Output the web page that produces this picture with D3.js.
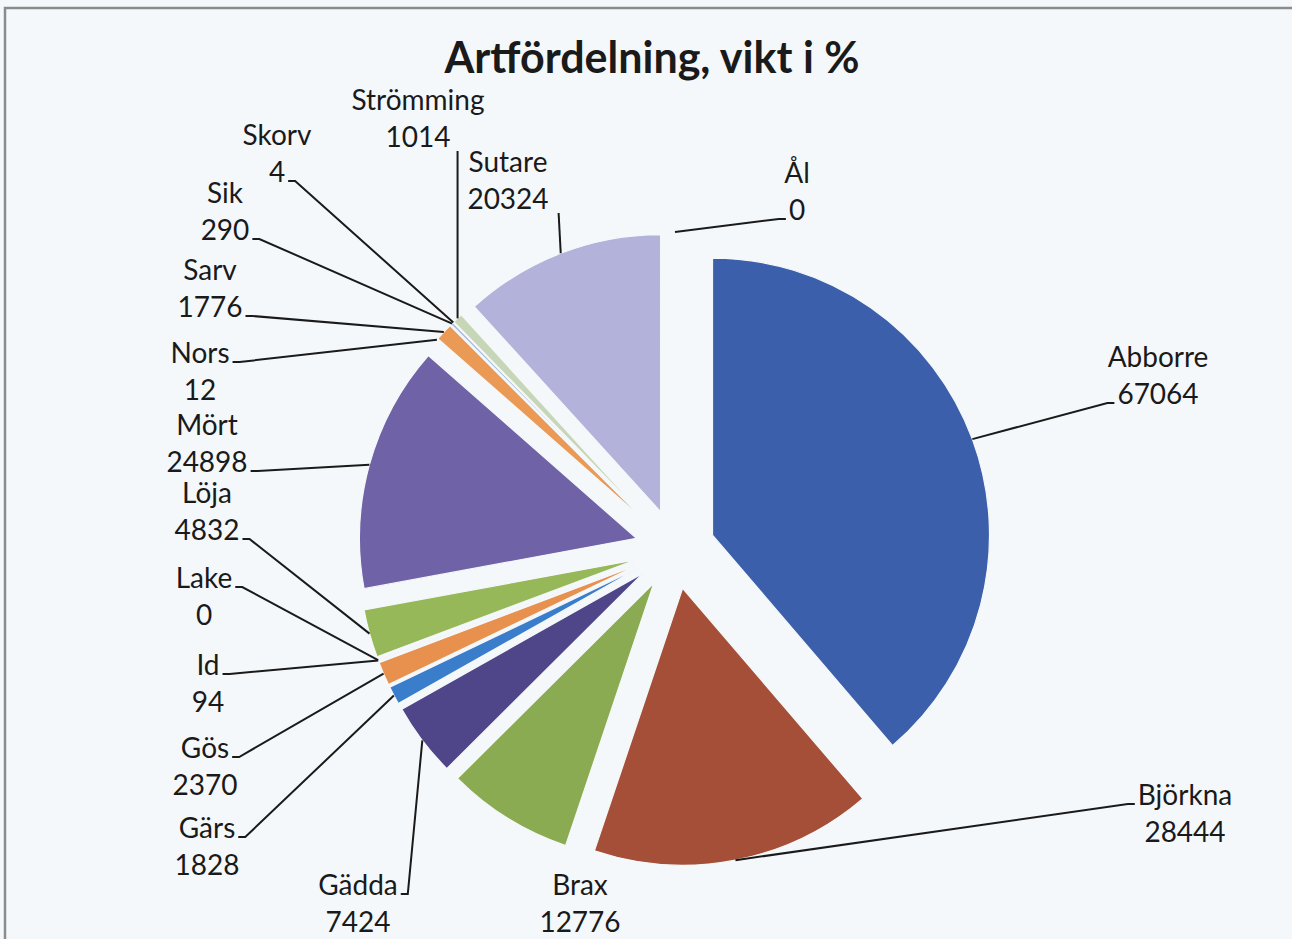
<!DOCTYPE html>
<html>
<head>
<meta charset="utf-8">
<script src="https://cdn.jsdelivr.net/npm/d3@7"></script>
<style>
  body { margin: 0; background: #f5f8fa; }
  svg { display: block; }
</style>
</head>
<body>
<svg></svg>
<script>
const categories = ["Abborre", "Björkna", "Brax", "Gädda", "Gärs", "Gös", "Id", "Lake", "Löja",
  "Mört", "Nors", "Sarv", "Sik", "Skorv", "Strömming", "Sutare", "Ål"];
const weights = [67064, 28444, 12776, 7424, 1828, 2370, 94, 0, 4832,
  24898, 12, 1776, 290, 4, 1014, 20324, 0];
const colors = ["#3b5faa", "#a64f38", "#8aab52", "#4f4589", "#3a7dcb", "#e8914e", "#6e84cc", "#8c3b30", "#97b858",
  "#6f62a6", "#3aa0c0", "#eb9a56", "#a9bce0", "#c07a7a", "#c6d6b6", "#b3b2da", "#99aabb"];

// label placement: [centre x, name line y, where the leader leaves the label]
const labelLayout = [
  [1158, 357, "left1"], [1185, 795, "left0"], [580, 885, "none"], [358, 885, "right0"],
  [207, 828, "right0"], [205, 748, "right0"], [208, 665, "right0"], [204, 578, "right0"],
  [207, 493, "right1"], [207, 425, "right1"], [200, 353, "right0"], [210, 270, "right1"],
  [225, 193, "right1"], [277, 135, "right1"], [418, 100, "bottom"], [508, 162, "bottom"],
  [797, 173, "left1"]
];

const width = 1292;
const height = 939;
const cx = 675, cy = 549;
const radius = 277;
const explode = 40;
const lineGap = 37;

const svg = d3.select("svg").attr("width", width).attr("height", height);

svg.append("path")
  .attr("d", `M5,${height} L5,8 L${width},8`)
  .attr("fill", "none")
  .attr("stroke", "#8c8c8c")
  .attr("stroke-width", 2.5);

svg.append("text")
  .attr("x", 652)
  .attr("y", 58)
  .attr("dy", "0.35em")
  .attr("text-anchor", "middle")
  .attr("font-family", "Lato, sans-serif")
  .attr("font-weight", "bold")
  .attr("font-size", 43)
  .attr("fill", "#1a1a1a")
  .text("Artfördelning, vikt i %");

const data = categories.map((name, i) => ({ name, value: weights[i], color: colors[i], layout: labelLayout[i] }));

const pie = d3.pie().sort(null).value((d) => d.value);
const arcs = pie(data);
const arc = d3.arc().innerRadius(0).outerRadius(radius);

const mid = (d) => (d.startAngle + d.endAngle) / 2;
const offset = (d, r) => [Math.sin(mid(d)) * r, -Math.cos(mid(d)) * r];

const g = svg.append("g").attr("transform", `translate(${cx},${cy})`);

g.selectAll("path.slice")
  .data(arcs.filter((d) => d.value > 0))
  .enter()
  .append("path")
  .attr("class", "slice")
  .attr("transform", (d) => `translate(${offset(d, explode)})`)
  .attr("d", arc)
  .attr("fill", (d) => d.data.color)
  .attr("stroke", "#f5f8fa")
  .attr("stroke-width", 1.2);

const labels = svg.append("g")
  .attr("font-family", "Lato, sans-serif")
  .attr("font-size", 28)
  .attr("fill", "#1a1a1a");

arcs.forEach((d) => {
  const [lx, ly, attach] = d.data.layout;
  const rows = [d.data.name, String(d.data.value)];
  const widths = rows.map((t, k) => {
    const el = labels.append("text")
      .attr("x", lx)
      .attr("y", ly + k * lineGap)
      .attr("dy", "0.35em")
      .attr("text-anchor", "middle")
      .text(t);
    return el.node().getComputedTextLength();
  });
  if (attach === "none") return;

  const [ox, oy] = offset(d, radius + explode);
  const ax = cx + ox, ay = cy + oy;
  let pts;
  if (attach === "bottom") {
    const half = widths[1] / 2 + 10;
    const sx = Math.max(lx - half, Math.min(lx + half, ax));
    pts = [[sx, ly + lineGap + 14], [ax, ay]];
  } else {
    const k = +attach.slice(-1);
    const side = attach.startsWith("left") ? -1 : 1;
    const sx = lx + side * (widths[k] / 2 + 3);
    const sy = ly + k * lineGap + 9;
    pts = [[sx, sy], [sx + side * 7, sy], [ax, ay]];
  }
  svg.append("path")
    .attr("d", d3.line()(pts))
    .attr("fill", "none")
    .attr("stroke", "#1a1a1a")
    .attr("stroke-width", 2);
});
</script>
</body>
</html>
